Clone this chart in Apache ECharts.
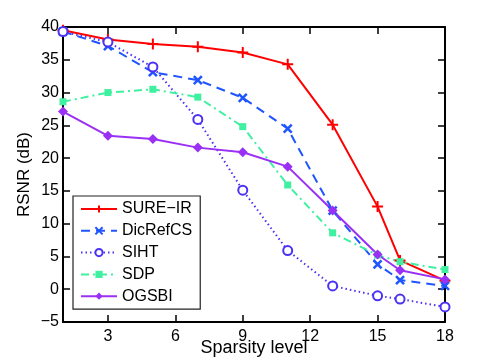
<!DOCTYPE html>
<html>
<head>
<meta charset="utf-8">
<script src="https://cdn.jsdelivr.net/npm/echarts@6/dist/echarts.min.js"></script>
<style>
  html, body { margin: 0; padding: 0; background: #fff; }
  #chart { width: 491px; height: 363px; }
</style>
</head>
<body>
<div id="chart"></div>
<script>
  // sparsity levels and RSNR (dB) per method
  var sparsity = [1, 3, 5, 7, 9, 11, 13, 15, 16, 18];
  var sureIR   = [39.5, 38.1, 37.4, 37.0, 36.1, 34.3, 25.1, 12.6, 4.4, 1.3];
  var dicRefCS = [39.3, 37.1, 33.1, 31.9, 29.2, 24.5, 12.0, 3.8, 1.4, 0.5];
  var siht     = [39.3, 37.7, 33.9, 25.9, 15.1, 5.9, 0.5, -1.0, -1.5, -2.7];
  var sdp      = [28.6, 30.0, 30.5, 29.3, 24.8, 15.9, 8.6, 5.2, 4.2, 3.0];
  var ogsbi    = [27.1, 23.4, 22.9, 21.6, 20.9, 18.7, 12.0, 5.3, 2.9, 1.5];
  var xTicks = [3, 6, 9, 12, 15, 18];

  var font = "'Liberation Sans', Arial, Helvetica, sans-serif";

  function pairs (ys) {
    return sparsity.map(function (x, i) { return [x, ys[i]] })
  }

  var plusPath = 'path://M5,0L5,10M0,5L10,5';
  var crossPath = 'path://M0,0L10,10M10,0L0,10';

  function makeSeries (name, ys, color, lineType, symbol, size, filled) {
    return {
      name: name,
      type: 'line',
      data: pairs(ys),
      color: color,
      symbol: symbol,
      symbolSize: size,
      showSymbol: true,
      lineStyle: { color: color, width: 2, type: lineType },
      itemStyle: {
        color: filled ? color : '#fff',
        borderColor: color,
        borderWidth: filled ? 0 : 2
      },
      emphasis: { disabled: true },
      animation: false
    }
  }

  var sPlus = makeSeries('SURE\u2212IR', sureIR, '#ff0000', 'solid', plusPath, 11, false);
  sPlus.itemStyle.color = '#ff0000';
  var sCross = makeSeries('DicRefCS', dicRefCS, '#1f55ff', [9, 6], crossPath, 8, false);
  sCross.itemStyle.color = '#1f55ff';
  sCross.itemStyle.borderWidth = 2.5;

  var axisCommon = {
    axisLine: { show: true, onZero: false, lineStyle: { color: '#000', width: 2 } },
    axisTick: { show: true, inside: true, length: 7, lineStyle: { color: '#000', width: 1.5 } },
    splitLine: { show: false }
  };

  var option = {
    backgroundColor: '#fff',
    animation: false,
    grid: { left: 63, right: 46, top: 27, bottom: 41, outerBoundsMode: 'none' },
    legend: {
      orient: 'vertical',
      left: 73,
      top: 196,
      itemWidth: 36,
      itemHeight: 9,
      itemGap: 3.8,
      padding: [4, 8, 4, 7],
      backgroundColor: '#fff',
      borderColor: '#222',
      borderWidth: 1.2,
      textStyle: { fontFamily: font, fontSize: 16, color: '#000', lineHeight: 18 },
      selectedMode: false
    },
    xAxis: [
      Object.assign({}, axisCommon, {
        type: 'value',
        min: 1,
        max: 18,
        name: 'Sparsity level',
        nameLocation: 'middle',
        nameGap: 17,
        nameMoveOverlap: false,
        nameTextStyle: { fontFamily: font, fontSize: 18, color: '#000' },
        axisTick: Object.assign({}, axisCommon.axisTick, { customValues: xTicks }),
        axisLabel: { customValues: xTicks, fontFamily: font, fontSize: 16, color: '#000', margin: 7 }
      }),
      Object.assign({}, axisCommon, {
        type: 'value',
        position: 'top',
        min: 1,
        max: 18,
        axisTick: Object.assign({}, axisCommon.axisTick, { customValues: xTicks }),
        axisLabel: { show: false }
      })
    ],
    yAxis: [
      Object.assign({}, axisCommon, {
        type: 'value',
        min: -5,
        max: 40,
        interval: 5,
        name: 'RSNR (dB)',
        nameLocation: 'middle',
        nameGap: 30,
        nameMoveOverlap: false,
        nameTextStyle: { fontFamily: font, fontSize: 17, color: '#000' },
        axisLabel: { fontFamily: font, fontSize: 16, color: '#000', margin: 4,
          formatter: function (v) { return v < 0 ? '\u2212' + Math.abs(v) : String(v) } }
      }),
      Object.assign({}, axisCommon, {
        type: 'value',
        position: 'right',
        min: -5,
        max: 40,
        interval: 5,
        axisLabel: { show: false }
      })
    ],
    series: [
      sPlus,
      sCross,
      makeSeries('SIHT', siht, '#4b32f5', [1.5, 3], 'circle', 9, false),
      makeSeries('SDP', sdp, '#3ff0a0', [8, 4, 2, 4], 'rect', 7, true),
      makeSeries('OGSBI', ogsbi, '#9b30f5', 'solid', 'diamond', 10, true)
    ]
  };

  var chart = echarts.init(document.getElementById('chart'), null, { renderer: 'canvas' });
  chart.setOption(option);
  window.addEventListener('resize', function () {
    chart.resize()
  });
</script>
</body>
</html>
